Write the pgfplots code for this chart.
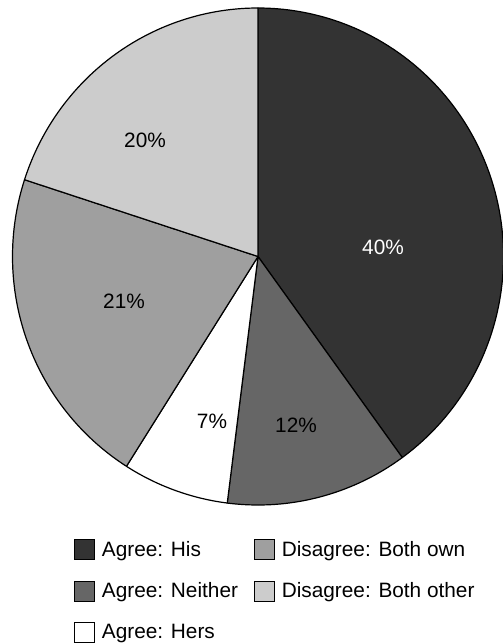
\documentclass[border=0pt]{standalone}
\usepackage{fontspec}
\setmainfont{Liberation Sans}
\usepackage{pgfplots}
\pgfplotsset{compat=1.18}

\definecolor{sHis}{HTML}{333333}
\definecolor{sNeither}{HTML}{666666}
\definecolor{sOwn}{HTML}{9F9F9F}
\definecolor{sOther}{HTML}{CCCCCC}
\newcommand\chartfont{\fontsize{20.8bp}{24bp}\selectfont}

\begin{document}
\begin{tikzpicture}
\path[use as bounding box] (0,0) rectangle (503bp,644bp);
\begin{axis}[
  at={(0,0)}, anchor=south west,
  width=503bp, height=644bp, scale only axis,
  xmin=0, xmax=503, ymin=0, ymax=644, y dir=reverse,
  hide axis, clip=false,
  legend columns=2,
  legend cell align=left,
  legend style={at={(axis cs:74,539)}, anchor=north west, draw=none, fill=none,
    font=\chartfont, inner sep=0pt, row sep=20.5bp,
    /tikz/every odd column/.append style={column sep=5bp},
    /tikz/every even column/.append style={column sep=14bp}},
  legend image code/.code={\draw[#1, draw=black, line width=0.8bp] (0bp,-10bp) rectangle (20bp,10bp);},
]
% legend, column-wise order
\addlegendimage{fill=sHis}\addlegendentry{Agree: His}
\addlegendimage{fill=sOwn}\addlegendentry{Disagree: Both own}
\addlegendimage{fill=sNeither}\addlegendentry{Agree: Neither}
\addlegendimage{fill=sOther}\addlegendentry{Disagree: Both other}
\addlegendimage{fill=white}\addlegendentry{Agree: Hers}

% slices clockwise from 12 o'clock: share / fill / label colour / label position
\gdef\cum{0}
\foreach \v/\c/\tc/\lx/\ly in {40/sHis/white/383/247, 12/sNeither/black/296/425,
    7/white/black/212/421, 21/sOwn/black/124/301, 20/sOther/black/145/140}{
  \pgfmathsetmacro\ahi{90-3.6*\cum}
  \pgfmathsetmacro\alo{90-3.6*(\cum+\v)}
  \pgfmathsetmacro\newcum{\cum+\v}
  \global\let\cum\newcum
  \edef\slice{\noexpand\addplot[forget plot, fill=\c, draw=black, line width=1.2bp,
      line join=round, domain=\alo:\ahi, samples=120]
    ({258+245.5*cos(x)}, {256.5-248.5*sin(x)}) -- (axis cs:258,256.5) -- cycle;
    \noexpand\node[font=\noexpand\chartfont, text=\tc] at (axis cs:\lx,\ly) {\v\noexpand\%};}
  \slice
}
\end{axis}
\end{tikzpicture}
\end{document}
